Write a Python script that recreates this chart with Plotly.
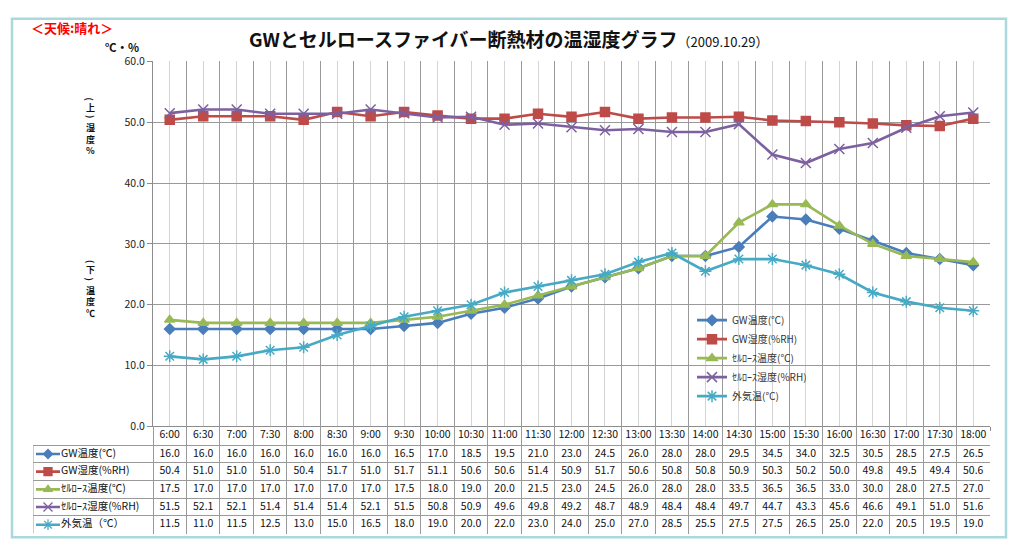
import plotly.graph_objects as go

# ---------------- data ----------------
times = ["6:00", "6:30", "7:00", "7:30", "8:00", "8:30", "9:00", "9:30", "10:00", "10:30",
         "11:00", "11:30", "12:00", "12:30", "13:00", "13:30", "14:00", "14:30", "15:00",
         "15:30", "16:00", "16:30", "17:00", "17:30", "18:00"]
gw_temp = [16.0, 16.0, 16.0, 16.0, 16.0, 16.0, 16.0, 16.5, 17.0, 18.5, 19.5, 21.0, 23.0,
           24.5, 26.0, 28.0, 28.0, 29.5, 34.5, 34.0, 32.5, 30.5, 28.5, 27.5, 26.5]
gw_hum = [50.4, 51.0, 51.0, 51.0, 50.4, 51.7, 51.0, 51.7, 51.1, 50.6, 50.6, 51.4, 50.9,
          51.7, 50.6, 50.8, 50.8, 50.9, 50.3, 50.2, 50.0, 49.8, 49.5, 49.4, 50.6]
cel_temp = [17.5, 17.0, 17.0, 17.0, 17.0, 17.0, 17.0, 17.5, 18.0, 19.0, 20.0, 21.5, 23.0,
            24.5, 26.0, 28.0, 28.0, 33.5, 36.5, 36.5, 33.0, 30.0, 28.0, 27.5, 27.0]
cel_hum = [51.5, 52.1, 52.1, 51.4, 51.4, 51.4, 52.1, 51.5, 50.8, 50.9, 49.6, 49.8, 49.2,
           48.7, 48.9, 48.4, 48.4, 49.7, 44.7, 43.3, 45.6, 46.6, 49.1, 51.0, 51.6]
outside = [11.5, 11.0, 11.5, 12.5, 13.0, 15.0, 16.5, 18.0, 19.0, 20.0, 22.0, 23.0, 24.0,
           25.0, 27.0, 28.5, 25.5, 27.5, 27.5, 26.5, 25.0, 22.0, 20.5, 19.5, 19.0]
series_names = ["GW温度(℃)", "GW湿度(%RH)", "ｾﾙﾛｰｽ温度(℃)", "ｾﾙﾛｰｽ湿度(%RH)", "外気温(℃)"]
table_labels = ["GW温度(℃)", "GW湿度(%RH)", "ｾﾙﾛｰｽ温度(℃)", "ｾﾙﾛｰｽ湿度(%RH)", "外気温（℃）"]
y_ticks = [0, 10, 20, 30, 40, 50, 60]

# ---------------- styles ----------------
FONT = "Noto Sans CJK JP, Noto Sans, sans-serif"
colors = ["#4A7EBB", "#BE4B48", "#98B954", "#7D60A0", "#46AAC5"]
symbols = ["diamond", "square", "triangle-up", "x-thin-open", "asterisk-open"]
msizes = [8, 9, 9, 10, 10]
series = [gw_temp, gw_hum, cel_temp, cel_hum, outside]

W, H = 1014, 549
PL, PR, PT, PB = 153, 990, 55, 430      # plot area in pixels
TL, TB = 33, 541                         # table left / bottom in pixels
n = len(times)
unit = (PR - PL) / n
x2min = -0.5 - (PL - TL) / unit
xs = list(range(n))

fig = go.Figure()

for name, vals, c, s, ms in zip(series_names, series, colors, symbols, msizes):
    fig.add_trace(go.Scatter(
        x=xs, y=vals, name=name, mode="lines+markers",
        line=dict(color=c, width=2.6),
        marker=dict(symbol=s, size=ms, color=c, line=dict(color=c, width=1.5)),
        xaxis="x", yaxis="y"))

# ---------------- table (second axes) ----------------
def key_x(px):
    return (px - PL) / unit - 0.5

fig.add_trace(go.Scatter(
    x=xs, y=[-0.53] * n, text=times, mode="text", showlegend=False,
    textfont=dict(family=FONT, size=10.5, color="#111"),
    xaxis="x2", yaxis="y2", hoverinfo="skip"))

for r, (lab, vals, c, s, ms) in enumerate(zip(table_labels, series, colors, symbols, msizes)):
    yc = r + 0.5
    fig.add_trace(go.Scatter(
        x=xs, y=[yc] * n, text=[f"{v:.1f}" for v in vals], mode="text",
        showlegend=False, textfont=dict(family=FONT, size=10.5, color="#111"),
        xaxis="x2", yaxis="y2", hoverinfo="skip"))
    fig.add_trace(go.Scatter(
        x=[key_x(36), key_x(60)], y=[yc, yc], mode="lines", showlegend=False,
        line=dict(color=c, width=2.6), xaxis="x2", yaxis="y2", hoverinfo="skip"))
    fig.add_trace(go.Scatter(
        x=[key_x(48)], y=[yc], mode="markers", showlegend=False,
        marker=dict(symbol=s, size=ms - 1, color=c, line=dict(color=c, width=1.3)),
        xaxis="x2", yaxis="y2", hoverinfo="skip"))
    fig.add_trace(go.Scatter(
        x=[key_x(61)], y=[yc], text=[lab], mode="text", textposition="middle right",
        showlegend=False, textfont=dict(family=FONT, size=10.5, color="#111"),
        xaxis="x2", yaxis="y2", hoverinfo="skip"))

boundaries = [i - 0.5 for i in range(n + 1)]

fig.update_layout(
    width=W, height=H,
    margin=dict(l=0, r=0, t=0, b=0),
    paper_bgcolor="white", plot_bgcolor="white",
    font=dict(family=FONT, size=10.5, color="#222"),
    showlegend=True,
    legend=dict(x=692 / W, y=1 - 306 / H, xanchor="left", yanchor="top",
                bgcolor="rgba(0,0,0,0)", font=dict(family=FONT, size=10, color="#333"),
                itemwidth=30, tracegroupgap=0),
    xaxis=dict(domain=[PL / W, PR / W], range=[-0.5, n - 0.5],
               showticklabels=False, tickmode="array", tickvals=boundaries,
               showgrid=True, gridcolor="#9a9a9a", gridwidth=1,
               minor=dict(tickmode="array", tickvals=xs, showgrid=True,
                          gridcolor="#d4d4d4", gridwidth=1),
               zeroline=False, showline=True, linecolor="#8c8c8c",
               ticks="outside", ticklen=4, tickcolor="#8c8c8c", anchor="y"),
    yaxis=dict(domain=[1 - PB / H, 1 - PT / H], range=[0, 60],
               tickmode="array", tickvals=y_ticks, tickformat=".1f",
               showgrid=True, gridcolor="#9a9a9a", gridwidth=1, zeroline=False,
               showline=True, linecolor="#8c8c8c", ticks="outside", ticklen=5,
               tickcolor="#8c8c8c", tickfont=dict(family=FONT, size=10.5, color="#222"),
               anchor="x"),
    xaxis2=dict(domain=[TL / W, PR / W], range=[x2min, n - 0.5],
                showticklabels=False, tickmode="array", tickvals=boundaries,
                showgrid=True, gridcolor="#9a9a9a", gridwidth=1, zeroline=False,
                showline=False, anchor="y2"),
    yaxis2=dict(domain=[1 - TB / H, 1 - PB / H], range=[5.04, -1.07],
                showticklabels=False, tickmode="array", tickvals=[0, 1, 2, 3, 4, 5],
                showgrid=True, gridcolor="#9a9a9a", gridwidth=1, zeroline=False,
                showline=False, anchor="x2"),
)

fig.add_shape(type="line", xref="x2", yref="y2", x0=x2min, x1=x2min, y0=0, y1=5,
              line=dict(color="#9a9a9a", width=1))

fig.add_shape(type="rect", xref="paper", yref="paper",
              x0=12 / W, x1=1006 / W, y0=1 - 544 / H, y1=1 - 11 / H,
              line=dict(color="#a9d9dc", width=2.5), layer="below")

fig.add_annotation(xref="paper", yref="paper", x=508 / W, y=1 - 31 / H,
                   xanchor="center", yanchor="middle", showarrow=False,
                   text="<b>GWとセルロースファイバー断熱材の温湿度グラフ</b>"
                        "<span style='font-size:13px;font-weight:normal'>（2009.10.29）</span>",
                   font=dict(family=FONT, size=19, color="#111"))
fig.add_annotation(xref="paper", yref="paper", x=29 / W, y=1 - 20 / H,
                   xanchor="left", yanchor="middle", showarrow=False,
                   text="<b>＜天候:晴れ＞</b>",
                   font=dict(family=FONT, size=13, color="#ff0000"))
fig.add_annotation(xref="paper", yref="paper", x=141 / W, y=1 - 40 / H,
                   xanchor="right", yanchor="middle", showarrow=False,
                   text="<b>℃・%</b>", font=dict(family=FONT, size=11.5, color="#111"))

# vertical axis captions: stacked characters, brackets rotated
captions = [
    (["(", "上", ")", "湿", "度", "%"], [93, 102, 111, 123, 135, 147]),
    (["(", "下", ")", "温", "度", "℃"], [260, 269, 278, 290, 302, 314]),
]
for chars, ys in captions:
    for ch, yy in zip(chars, ys):
        rot = 90 if ch in "()" else 0
        fig.add_annotation(xref="paper", yref="paper", x=90 / W, y=1 - yy / H,
                           xanchor="center", yanchor="middle", showarrow=False,
                           textangle=rot, text=f"<b>{ch}</b>", borderpad=0,
                           font=dict(family=FONT, size=9, color="#111"))

fig.write_html("out.html",
               config={"displayModeBar": False},
               post_script="document.body.style.margin='0';"
                           "document.documentElement.style.overflow='hidden';")
